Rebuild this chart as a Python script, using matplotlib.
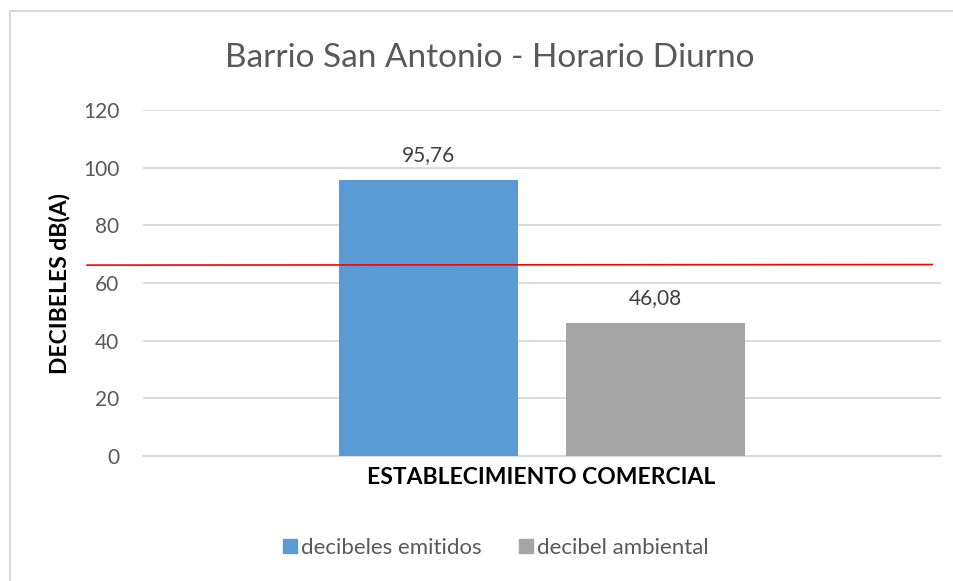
import matplotlib
matplotlib.use('Agg')
import matplotlib.pyplot as plt
from matplotlib.patches import Rectangle
from matplotlib.lines import Line2D

# --------------------------------------------------------------------------- #
# Data.
category = 'ESTABLECIMIENTO COMERCIAL'
series = ['decibeles emitidos', 'decibel ambiental']
values = [95.76, 46.08]
colors = ['#5B9BD5', '#A5A5A5']
yticks = [0, 20, 40, 60, 80, 100, 120]
limit_line = [66.2, 66.4]   # red reference line (start, end)

title = 'Barrio San Antonio - Horario Diurno'
ylabel = 'DECIBELES dB(A)'

# --------------------------------------------------------------------------- #
W, H = 954, 581
plt.rcParams['font.family'] = ['Lato', 'DejaVu Sans']
txt = '#595959'
grid = '#D9D9D9'

fig = plt.figure(figsize=(W / 100.0, H / 100.0), dpi=100)

# Chart area border (runs off the right and bottom edge).
fig.patches.append(Rectangle((10.0 / W, -0.1), 1.2, (H - 11.0) / H + 0.1,
                             transform=fig.transFigure, fill=False,
                             edgecolor=grid, linewidth=1.5))

ax = fig.add_axes([143.0 / W, (H - 456.0) / H, 798.0 / W, 346.0 / H])

bw = 0.2243
offs = [-0.142, 0.142]
for i in range(len(values)):
    ax.bar(offs[i], values[i], width=bw, color=colors[i], zorder=3)
    ax.text(offs[i], values[i] + 5.2, ('%.2f' % values[i]).replace('.', ','),
            ha='center', va='bottom', fontsize=15, color='#404040')

ax.set_xlim(-0.5, 0.5)
ax.set_ylim(0, 120)
ax.set_yticks(yticks)
ax.set_yticklabels([str(t) for t in yticks], fontsize=15, color=txt)
ax.set_xticks([])
ax.tick_params(axis='y', length=0, pad=17)
ax.grid(axis='y', color=grid, linewidth=1.3, zorder=0)
for s in ['top', 'right', 'left']:
    ax.spines[s].set_visible(False)
ax.spines['bottom'].set_color(grid)
ax.spines['bottom'].set_linewidth(1.3)

# Red limit line, drawn a little past the left of the plot area.
ax.plot([-0.570, 0.489], limit_line, color='#FF0000', linewidth=1.2,
        clip_on=False, zorder=4)

fig.text(541.0 / W, 1 - 478.0 / H, category, ha='center', va='center',
         fontsize=16.5, fontweight='bold', color='black')
fig.text(60.0 / W, 1 - 284.0 / H, ylabel, ha='center', va='center',
         rotation=90, fontsize=16.5, fontweight='bold', color='black')
fig.text(490.0 / W, 1 - 58.0 / H, title, ha='center', va='center',
         fontsize=24, fontweight='normal', color=txt)

handles = [Line2D([], [], marker='s', linestyle='none', markersize=9.4,
                  markerfacecolor=c, markeredgecolor=c) for c in colors]
fig.legend(handles, series, loc='center', bbox_to_anchor=(494.0 / W, 1 - 548.0 / H),
           ncol=2, frameon=False, fontsize=16, labelcolor=txt,
           handletextpad=0.0, columnspacing=1.5, handlelength=1.0)

plt.savefig('out.png', dpi=100)
